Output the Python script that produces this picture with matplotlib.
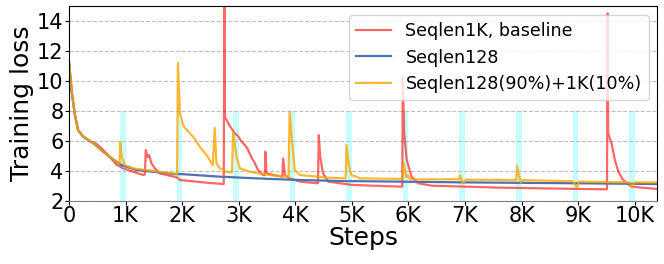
import matplotlib
matplotlib.use("Agg")
import matplotlib.pyplot as plt

# Seqlen1K baseline
base_steps = [0, 50, 100, 160, 250, 370, 485, 600, 700, 840, 955, 1310, 1340, 1357, 1385, 1415,
              1457, 1516, 1605, 1900, 1960, 2370, 2720, 2735, 2745, 2755, 2840, 2930, 2990,
              3040, 3110, 3150, 3230, 3270, 3340, 3380, 3430, 3460, 3470, 3490, 3610, 3770,
              3785, 3815, 3900, 4080, 4400, 4415, 4440, 4490, 4580, 5000, 5890, 5900, 5925,
              5970, 6055, 6175, 6410, 7590, 9355, 9510, 9520, 9530, 9590, 9650, 9710, 9795,
              9945, 10400]
base_loss = [11.2, 9.2, 7.8, 6.7, 6.3, 5.95, 5.8, 5.4, 5.0, 4.4, 4.16, 3.71, 3.75, 5.38, 4.9, 5.05,
             4.49, 4.16, 3.82, 3.56, 3.38, 3.22, 3.11, 3.11, 16.5, 7.6, 7.0, 6.5, 6.3,
             6.0, 5.7, 5.5, 4.85, 4.6, 4.05, 3.9, 3.71, 3.7, 5.27, 3.85, 3.71, 3.6,
             4.82, 3.71, 3.49, 3.27, 3.16, 6.38, 4.93, 3.82, 3.27, 3.05, 2.93, 10.27, 6.49,
             4.71, 3.6, 3.16, 3.0, 2.87, 2.76, 2.76, 14.5, 6.49, 5.82, 4.71, 3.93, 3.38,
             2.93, 2.78]

# Seqlen128
short_steps = [0, 50, 100, 160, 250, 430, 600, 780, 925, 1190, 1900, 1960, 2665, 3550, 4080,
               4900, 5140, 7000, 9000, 10400]
short_loss = [11.2, 9.2, 7.8, 6.7, 6.27, 5.83, 5.27, 4.76, 4.38, 4.05, 3.76, 3.78, 3.6, 3.45, 3.38,
              3.3, 3.3, 3.22, 3.16, 3.11]

# Seqlen128(90%)+1K(10%)
mix_steps = [0, 50, 100, 160, 250, 430, 600, 780, 895, 905, 930, 985, 1130, 1600, 1910, 1925,
             1960, 2020, 2110, 2195, 2310, 2430, 2540, 2575, 2605, 2665, 2780, 2880, 2900,
             2960, 3020, 3195, 3550, 3880, 3900, 3950, 3990, 4080, 4610, 4890, 4905, 4950,
             4990, 5080, 5140, 5890, 5920, 5960, 5990, 6020, 6100, 6900, 6910, 6960, 6990,
             7010, 7905, 7920, 7950, 7990, 8010, 8905, 8965, 8990, 9010, 9910, 9955, 9990,
             10400]
mix_loss = [11.2, 9.2, 7.8, 6.7, 6.27, 5.83, 5.27, 4.76, 4.49, 5.93, 4.93, 4.38, 4.16, 3.93, 3.78,
            11.2, 7.83, 7.0, 6.6, 6.27, 5.6, 5.05, 4.38, 6.87, 4.49, 4.16, 3.93, 3.9, 6.6,
            4.93, 4.16, 3.93, 3.71, 3.6, 7.93, 5.6, 4.05, 3.71, 3.53, 3.49, 5.71, 4.27,
            3.71, 3.6, 3.49, 3.45, 4.5, 3.55, 3.7, 3.45, 3.42, 3.43, 3.71, 3.16, 3.27,
            3.4, 3.38, 4.31, 3.71, 3.2, 3.37, 3.3, 2.98, 2.93, 3.27, 3.22, 2.93, 3.22,
            3.22]

# highlighted 1K phases
band_starts = [900, 1900, 2900, 3900, 4900, 5900, 6900, 7900, 8900, 9900]
band_width = 100

xtick_vals = [0, 1000, 2000, 3000, 4000, 5000, 6000, 7000, 8000, 9000, 10000]
xtick_labels = ['0', '1K', '2K', '3K', '4K', '5K', '6K', '7K', '8K', '9K', '10K']
ytick_vals = [2, 4, 6, 8, 10, 12, 14]

fig = plt.figure(figsize=(6.64, 2.64), dpi=100)
ax = fig.add_axes([0.104, 0.24, 0.886, 0.737])

ax.bar(band_starts, [6] * len(band_starts), width=band_width, bottom=2, align='edge',
       color='cyan', alpha=0.22, linewidth=0)

ax.plot(base_steps, base_loss, color='red', alpha=0.6, linewidth=1.6, label='Seqlen1K, baseline')
ax.plot(short_steps, short_loss, color='#4c72b0', linewidth=1.6, label='Seqlen128')
ax.plot(mix_steps, mix_loss, color='orange', alpha=0.8, linewidth=1.6,
        label='Seqlen128(90%)+1K(10%)')

ax.set_xlim(0, 10400)
ax.set_ylim(2, 15)
ax.set_xticks(xtick_vals)
ax.set_xticklabels(xtick_labels)
ax.set_yticks(ytick_vals)
ax.tick_params(axis='both', labelsize=15, length=3, pad=1)
ax.grid(axis='y', linestyle='--', color='#b0b0b0', alpha=0.8, linewidth=0.8)
ax.spines['bottom'].set_color('#808080')

ax.set_xlabel('Steps', fontsize=18, labelpad=0)
ax.set_ylabel('Training loss', fontsize=18, labelpad=2)
ax.legend(loc='upper right', fontsize=12.6)

fig.savefig('out.png', dpi=100)
